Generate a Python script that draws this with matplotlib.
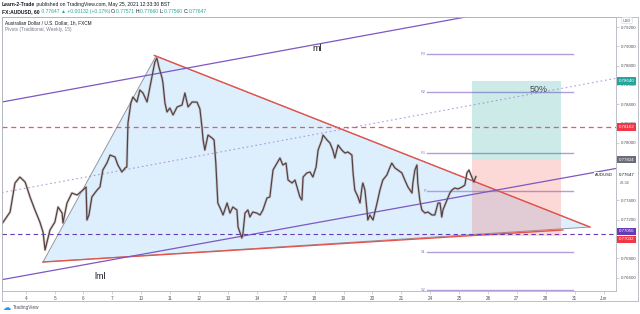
import matplotlib
matplotlib.use("Agg")
import matplotlib.pyplot as plt
from matplotlib.lines import Line2D
from matplotlib.transforms import offset_copy

W, H = 640, 314

# AUDUSD 1h closes; x is trading days since May 4 00:00
price_days = [
    -0.80, -0.54, -0.37, -0.20, -0.02, 0.15, 0.32, 0.49, 0.60, 0.67, 0.84, 1.01,
    1.12, 1.26, 1.29, 1.43, 1.60, 1.78, 1.98, 2.09, 2.12, 2.19, 2.29, 2.47,
    2.57, 2.67, 2.81, 2.92, 3.09, 3.19, 3.33, 3.44, 3.50, 3.54, 3.64, 3.71,
    3.85, 3.95, 4.06, 4.20, 4.30, 4.40, 4.47, 4.54, 4.61, 4.72, 4.75, 4.82,
    4.89, 4.99, 5.10, 5.24, 5.41, 5.51, 5.62, 5.76, 5.93, 6.03, 6.10, 6.14,
    6.20, 6.31, 6.45, 6.52, 6.58, 6.65, 6.76, 6.83, 6.97, 7.07, 7.17, 7.31,
    7.35, 7.42, 7.48, 7.52, 7.59, 7.69, 7.76, 7.86, 8.00, 8.11, 8.21, 8.35,
    8.45, 8.56, 8.70, 8.80, 8.90, 9.01, 9.08, 9.22, 9.32, 9.39, 9.49, 9.56,
    9.60, 9.73, 9.84, 9.94, 10.05, 10.12, 10.25, 10.29, 10.43, 10.53, 10.63, 10.70,
    10.81, 10.94, 11.05, 11.15, 11.29, 11.33, 11.39, 11.50, 11.57, 11.64, 11.67, 11.74,
    11.81, 11.84, 11.91, 12.02, 12.16, 12.26, 12.36, 12.50, 12.61, 12.67, 12.78, 12.88,
    13.02, 13.12, 13.23, 13.37, 13.40, 13.47, 13.54, 13.57, 13.64, 13.71, 13.82, 13.92,
    14.06, 14.16, 14.27, 14.34, 14.40, 14.44, 14.58, 14.68, 14.75, 14.85, 14.96, 15.10,
    15.20, 15.27, 15.34, 15.44, 15.51, 15.58,
]
price_close = [
    0.77166, 0.77280, 0.77581, 0.77643, 0.77591, 0.77436, 0.77301, 0.77176, 0.77072, 0.76885, 0.77093, 0.77176,
    0.77332, 0.77269, 0.77166, 0.77373, 0.77477, 0.77456, 0.77508, 0.77539, 0.77197, 0.77249, 0.77436, 0.77508,
    0.77539, 0.77716, 0.77788, 0.77871, 0.77851, 0.77768, 0.77695, 0.77737, 0.77747, 0.78204, 0.78411, 0.78473,
    0.78422, 0.78546, 0.78515, 0.78422, 0.78577, 0.78733, 0.78837, 0.78878, 0.78785, 0.78671, 0.78619, 0.78411,
    0.78318, 0.78359, 0.78287, 0.78370, 0.78390, 0.78515, 0.78370, 0.78422, 0.78420, 0.78350, 0.78162, 0.78027,
    0.77923, 0.78079, 0.78048, 0.78027, 0.77788, 0.77373, 0.77301, 0.77249, 0.77373, 0.77269, 0.77332, 0.77301,
    0.77124, 0.77062, 0.77010, 0.77062, 0.77269, 0.77301, 0.77228, 0.77280, 0.77269, 0.77249, 0.77301, 0.77425,
    0.77436, 0.77716, 0.77788, 0.77840, 0.77768, 0.77788, 0.77612, 0.77581, 0.77612, 0.77539, 0.77436, 0.77404,
    0.77643, 0.77685, 0.77695, 0.77643, 0.77747, 0.77923, 0.78027, 0.78079, 0.78027, 0.77996, 0.77923, 0.77840,
    0.77975, 0.77923, 0.77892, 0.77903, 0.77871, 0.77685, 0.77508, 0.77436, 0.77373, 0.77539, 0.77581, 0.77508,
    0.77301, 0.77197, 0.77249, 0.77197, 0.77373, 0.77508, 0.77612, 0.77664, 0.77747, 0.77788, 0.77737, 0.77716,
    0.77685, 0.77612, 0.77539, 0.77477, 0.77581, 0.77716, 0.77768, 0.77581, 0.77404, 0.77301, 0.77269, 0.77280,
    0.77249, 0.77249, 0.77373, 0.77373, 0.77228, 0.77301, 0.77404, 0.77477, 0.77508, 0.77529, 0.77519, 0.77539,
    0.77560, 0.77685, 0.77716, 0.77643, 0.77591, 0.77647,
]

date_labels = ["4", "5", "6", "7", "10", "11", "12", "13", "14", "17", "18",
               "19", "20", "21", "24", "25", "26", "27", "28", "31", "Jun"]
price_ticks = [0.766, 0.768, 0.772, 0.774, 0.778, 0.780, 0.782,
               0.784, 0.786, 0.788, 0.790, 0.792]

# drawings
triangle_days = [0.60, 4.51, 19.53]
triangle_prices = [0.76761, 0.78899, 0.77124]
upper_trend_days = [4.45, 19.53]
upper_trend_prices = [0.78905, 0.77124]
lower_trend_days = [0.60, 18.59]
lower_trend_prices = [0.76761, 0.77093]

ml_days, ml_prices = [-0.89, 10.88], [0.78418, 0.79065]
mid_days, mid_prices = [-0.89, 19.18], [0.77477, 0.78598]
lml_days, lml_prices = [-0.89, 19.18], [0.76574, 0.77664]

resistance = 0.78162
support = 0.77056

pivot_names = ["R3", "R2", "R1", "P", "S1", "S2"]
pivot_prices = [0.78920, 0.78525, 0.77892, 0.77498, 0.76865, 0.76470]
pivot_span = [13.9, 18.95]

entry, target, stop = 0.77824, 0.78640, 0.77032
position_span = [15.44, 18.52]
last_price = 0.77647

fig = plt.figure(figsize=(W / 100, H / 100), dpi=100)
ax = fig.add_axes([2 / W, 1 - 291 / H, 614 / W, 274 / H])
ax.set_xlim(-0.82, 20.43)
ax.set_ylim(0.7646, 0.79304)

# triangle + trendlines
ax.fill(triangle_days, triangle_prices, color="#2196f3", alpha=0.15, lw=0, zorder=1)
ax.plot(triangle_days + triangle_days[:1], triangle_prices + triangle_prices[:1],
        color="#9598a1", lw=0.7, zorder=2)
ax.plot(upper_trend_days, upper_trend_prices, color="#e5534b", lw=1.0, zorder=3)
ax.plot(lower_trend_days, lower_trend_prices, color="#e5534b", lw=1.0, zorder=3)

# channel
ax.axline((ml_days[0], ml_prices[0]), (ml_days[1], ml_prices[1]), color="#7e57c2", lw=0.9, zorder=3)
ax.axline((mid_days[0], mid_prices[0]), (mid_days[1], mid_prices[1]), color="#9575cd",
          lw=0.8, ls=(0, (1.5, 2.5)), alpha=0.7, zorder=3)
ax.axline((lml_days[0], lml_prices[0]), (lml_days[1], lml_prices[1]), color="#7e57c2", lw=0.9, zorder=3)

# horizontal levels
ax.axhline(resistance, color="#f7525f", lw=0.9, ls=(0, (4, 3)), zorder=3)
ax.axhline(support, color="#673ab7", lw=0.8, ls=(0, (4, 3)), zorder=3)

# weekly pivots
for name, p in zip(pivot_names, pivot_prices):
    ax.plot(pivot_span, [p, p], color="#b39ddb", lw=1.0, zorder=2)
    ax.text(pivot_span[0] - 0.05, p, name, fontsize=2.8, color="#9575cd",
            ha="right", va="center", family="Liberation Sans", zorder=4)

# long position tool
x0, x1 = position_span
ax.fill_between([x0, x1], entry, target, color="#009688", alpha=0.2, lw=0, zorder=2)
ax.fill_between([x0, x1], stop, entry, color="#f44336", alpha=0.2, lw=0, zorder=2)
ax.text(17.75, 0.7855, "50%", fontsize=6.5, color="#434651", ha="center", va="center",
        family="Liberation Sans", zorder=5)

# price
ax.plot(price_days, price_close, color="#9e9e9e", lw=2.0, alpha=0.4, zorder=4)
ax.plot(price_days, price_close, color="#5a4040", lw=0.9, zorder=5)

ax.text(10.08, 0.7898, "ml", fontsize=6.5, color="#131722", ha="center", va="center",
        family="Liberation Sans", zorder=6)
ax.text(2.57, 0.76615, "lml", fontsize=6.5, color="#131722", ha="center", va="center",
        family="Liberation Sans", zorder=6)

# axes styling
for s in ax.spines.values():
    s.set_color("#b2b5be")
    s.set_linewidth(0.6)
ax.set_xticks(range(len(date_labels)))
ax.set_xticklabels(date_labels, family="Liberation Sans")
ax.tick_params(axis="x", length=2, width=0.4, colors="#b2b5be", labelcolor="#50535e",
               labelsize=3.3, pad=1.5)
ax.yaxis.tick_right()
ax.set_yticks(price_ticks)
ax.set_yticklabels([f"{v:.5f}" for v in price_ticks], family="Liberation Sans")
ax.tick_params(axis="y", length=2, width=0.4, colors="#b2b5be", labelcolor="#50535e",
               labelsize=3.2, pad=1.5)

# price scale labels
ytr = ax.get_yaxis_transform()
boxes = [(target, "0.78640", "#26a69a", 0), (resistance, "0.78162", "#f23645", 0),
         (entry, "0.77824", "#6a6d78", 0), (support, "0.77056", "#673ab7", 1.5),
         (stop, "0.77032", "#f23645", -2.5)]
for val, txt, col, dy in boxes:
    ax.text(1.004, val, txt, transform=offset_copy(ytr, fig=fig, y=dy, units="points"),
            fontsize=3.2, color="white", ha="left", va="center", family="Liberation Sans",
            bbox=dict(boxstyle="square,pad=0.35", fc=col, ec="none"), zorder=20, clip_on=False)
ax.text(1.004, last_price, "0.77647", transform=offset_copy(ytr, fig=fig, y=1, units="points"),
        fontsize=3.2, color="#131722", ha="left", va="center", family="Liberation Sans",
        bbox=dict(boxstyle="square,pad=0.2", fc="white", ec="none"), zorder=20, clip_on=False)
ax.text(1.006, last_price, "26:32", transform=offset_copy(ytr, fig=fig, y=-4.5, units="points"),
        fontsize=2.8, color="#50535e", ha="left", va="center", family="Liberation Sans",
        zorder=21, clip_on=False)
ax.text(0.995, last_price, "AUDUSD", transform=offset_copy(ytr, fig=fig, y=1, units="points"),
        fontsize=3.0, color="#131722", ha="right", va="center", family="Liberation Sans",
        bbox=dict(boxstyle="square,pad=0.3", fc="white", ec="none"), zorder=20)

# outer frame
def fline(xs, ys):
    fig.add_artist(Line2D([x / W for x in xs], [1 - y / H for y in ys],
                          color="#b2b5be", lw=0.6, transform=fig.transFigure))

fline([2, 638], [17, 17])
fline([2, 638], [301, 301])
fline([2, 2], [17, 301])
fline([638, 638], [17, 301])
fig.text(627 / W, 1 - 20.5 / H, "USD", fontsize=2.8, color="#50535e", ha="center",
         va="center", family="Liberation Sans",
         bbox=dict(boxstyle="round,pad=0.3", fc="white", ec="#d1d4dc", lw=0.4))

# header
renderer = fig.canvas.get_renderer()

def write_run(pieces, x, y, size):
    for txt, col, weight in pieces:
        t = fig.text(x, y, txt, color=col, fontsize=size, fontweight=weight,
                     ha="left", va="center", family="Liberation Sans")
        x += t.get_window_extent(renderer).width / fig.bbox.width

green = "#26a69a"
dark = "#131722"
write_run([("Learn-2-Trade", dark, "bold"),
           (" published on TradingView.com, May 25, 2021 12:33:30 BST", dark, "normal")],
          2 / W, 1 - 4.5 / H, 3.6)
write_run([("FX:AUDUSD, 60", dark, "bold"), (" 0.77647 ", green, "normal"),
           ("\u25b2", green, "normal"), (" +0.00132 (+0.17%) ", green, "normal"),
           ("O:", dark, "normal"), ("0.77571 ", green, "normal"),
           ("H:", dark, "normal"), ("0.77660 ", green, "normal"),
           ("L:", dark, "normal"), ("0.77560 ", green, "normal"),
           ("C:", dark, "normal"), ("0.77647", green, "normal")],
          2 / W, 1 - 11.5 / H, 3.6)
fig.text(5 / W, 1 - 22.5 / H, "Australian Dollar / U.S. Dollar, 1h, FXCM", fontsize=3.4,
         color=dark, ha="left", va="center", family="Liberation Sans")
fig.text(5 / W, 1 - 29 / H, "Pivots (Traditional, Weekly, 15)", fontsize=3.4,
         color="#787b86", ha="left", va="center", family="Liberation Sans")

# footer logo
fig.text(3 / W, 1 - 307 / H, "\u2601", fontsize=6, color="#2196f3", ha="left", va="center",
         family="DejaVu Sans")
fig.text(13 / W, 1 - 307.5 / H, "TradingView", fontsize=3.4, color="#50535e", ha="left",
         va="center", family="Liberation Sans")

fig.savefig("out.png", dpi=100)
